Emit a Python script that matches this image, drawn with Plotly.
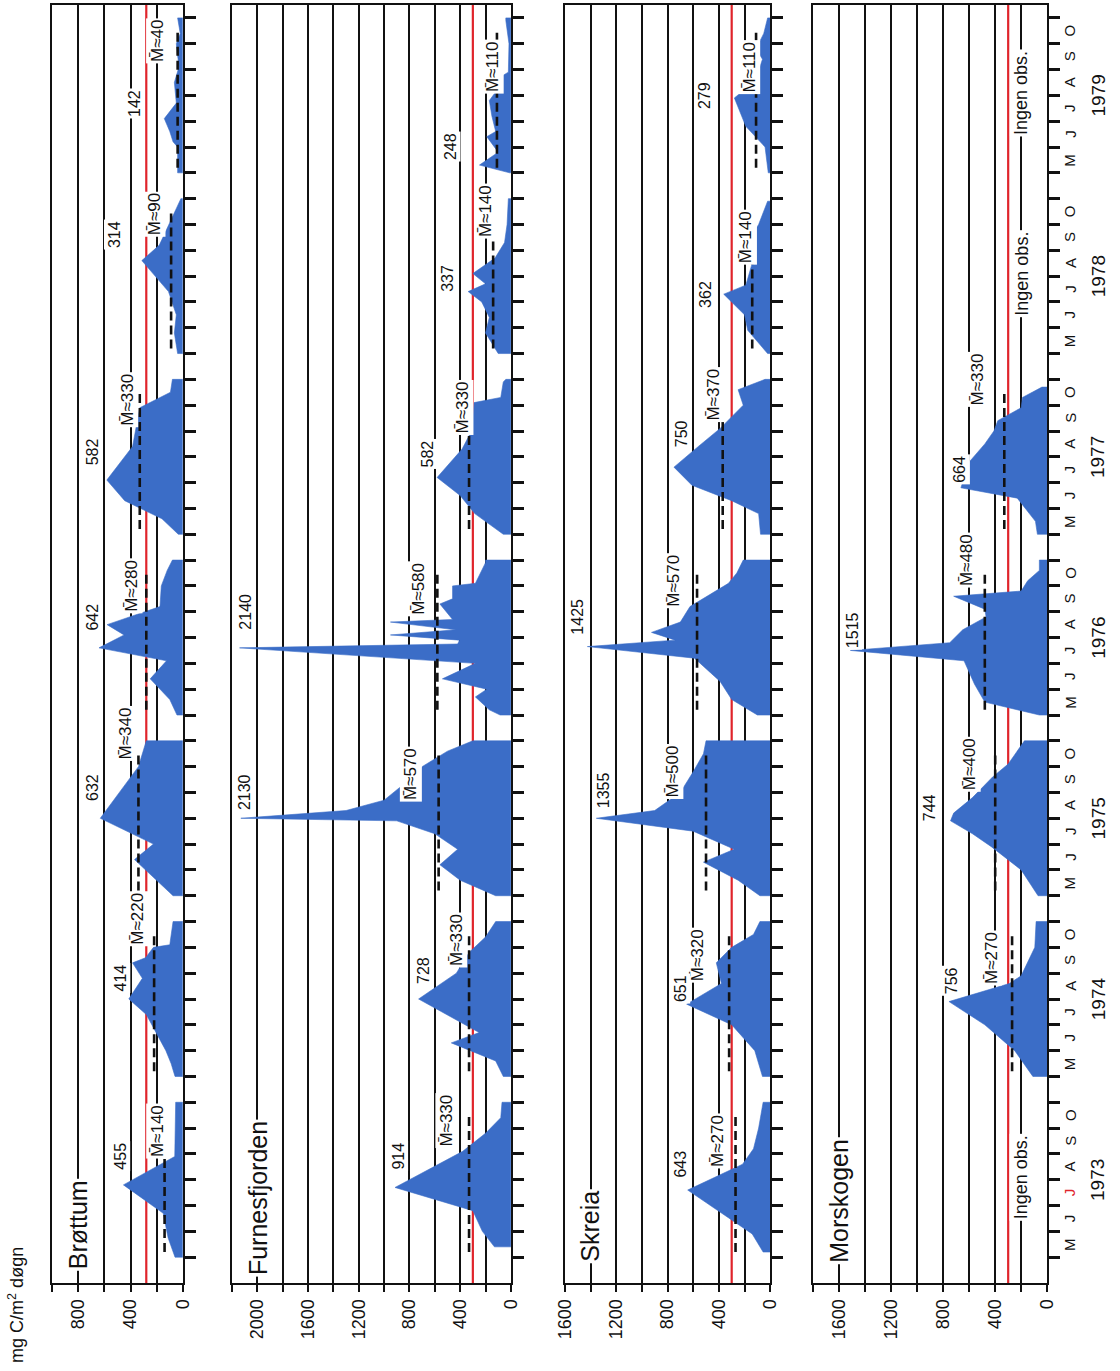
import plotly.graph_objects as go

FONT = "Liberation Sans, Arial, sans-serif"

YEARS = [1973, 1974, 1975, 1976, 1977, 1978, 1979]
MONTHS = ["M", "J", "J", "A", "S", "O"]
SEASON = 7  # May..October plus one empty slot before the next year

# Primary production (mg C/m2 døgn). t = months since 1 May of the given year.
brottum_t = {
    1973: [0, 0.75, 1.7, 2.8, 3.9, 6.0],
    1974: [0, 0.5, 1.0, 2.4, 3.0, 3.8, 4.4, 4.6, 5.0, 5.1, 6.0],
    1975: [0, 1.4, 2.0, 3.0, 5.0, 6.0],
    1976: [0, 0.6, 1.4, 2.1, 2.6, 3.1, 3.5, 4.2, 5.0, 5.6, 6.0],
    1977: [0, 0.6, 1.3, 2.1, 3.4, 4.9, 5.5, 6.0],
    1978: [0, 0.8, 1.5, 2.4, 3.6, 4.2, 5.2, 6.0],
    1979: [0, 1.0, 1.2, 1.6, 2.1, 2.7, 3.5, 4.1, 5.0, 5.4, 6.0],
}
brottum_v = {
    1973: [60, 113, 150, 455, 62, 55],
    1974: [60, 90, 130, 280, 414, 310, 385, 285, 225, 100, 75],
    1975: [75, 370, 225, 632, 340, 280],
    1976: [45, 100, 250, 125, 642, 450, 580, 175, 165, 120, 80],
    1977: [35, 160, 445, 582, 385, 330, 95, 80],
    1978: [40, 65, 50, 110, 314, 180, 85, 15],
    1979: [40, 40, 75, 100, 142, 50, 65, 30, 50, 20, 40],
}
brottum_mean = [140, 220, 340, 280, 330, 90, 40]
brottum_ref = 280

furnes_t = {
    1973: [0.4, 1.0, 1.8, 2.7, 4.1, 4.8, 5.4, 6.0],
    1974: [0, 0.6, 1.3, 1.7, 3.0, 4.0, 4.8, 5.4, 6.0],
    1975: [0, 0.6, 1.2, 1.8, 2.4, 2.9, 3.0, 3.3, 3.7, 4.3, 5.0, 5.6, 6.0],
    1976: [0, 0.2, 0.7, 1.0, 1.4, 2.0, 2.6, 2.75, 2.9, 3.1, 3.3, 3.6, 3.7, 4.3, 4.5, 5.0, 5.1, 5.9, 6.0],
    1977: [0, 0.8, 1.5, 2.2, 3.3, 4.0, 5.1, 5.3, 5.9, 6.0],
    1978: [0, 0.8, 1.4, 2.0, 2.4, 2.7, 3.1, 3.7, 4.3, 5.0, 6.0],
    1979: [0, 0.3, 0.8, 1.4, 1.6, 2.2, 2.8, 3.2, 3.6, 3.9, 5.0, 5.9, 6.0],
}
furnes_v = {
    1973: [130, 225, 300, 914, 380, 200, 80, 70],
    1974: [60, 120, 470, 250, 728, 430, 330, 200, 120],
    1975: [120, 400, 560, 420, 600, 900, 2130, 1300, 1000, 850, 700, 500, 300],
    1976: [85, 170, 280, 190, 540, 280, 2140, 420, 405, 950, 435, 950, 460, 560, 460, 460, 280, 200, 200],
    1977: [60, 285, 400, 582, 385, 310, 290, 80, 60, 40],
    1978: [100, 200, 170, 230, 337, 200, 300, 125, 50, 30, 20],
    1979: [10, 248, 100, 190, 120, 150, 170, 110, 120, 20, 15, 40, 40],
}
furnes_mean = [330, 330, 570, 580, 330, 140, 110]
furnes_ref = 300

skreia_t = {
    1973: [0.2, 0.9, 2.6, 3.6, 4.2, 5.0, 6.0],
    1974: [0, 1.0, 2.0, 2.8, 3.6, 4.4, 5.0, 5.5, 6.0],
    1975: [0, 0.6, 1.3, 1.8, 2.5, 3.0, 3.3, 4.0, 4.8, 5.5, 6.0],
    1976: [0, 0.6, 1.3, 2.2, 2.65, 2.9, 3.2, 3.6, 4.2, 5.1, 5.5, 6.0],
    1977: [0, 0.8, 1.3, 1.9, 2.6, 3.4, 4.1, 5.0, 5.6, 6.0],
    1978: [0, 0.9, 1.5, 2.3, 2.65, 3.5, 4.3, 5.0, 5.9],
    1979: [0, 1.0, 1.8, 2.9, 3.3, 3.8, 4.4, 4.8, 5.4, 6.0],
}
skreia_v = {
    1973: [55, 140, 643, 215, 130, 90, 55],
    1974: [60, 120, 300, 651, 380, 420, 300, 130, 80],
    1975: [80, 250, 520, 280, 600, 1355, 900, 700, 600, 520, 500],
    1976: [100, 300, 390, 590, 1425, 740, 925, 700, 625, 325, 260, 210],
    1977: [75, 90, 300, 610, 750, 560, 390, 210, 250, 40],
    1978: [20, 175, 200, 362, 190, 140, 175, 90, 20],
    1979: [15, 40, 190, 279, 180, 100, 60, 110, 50, 20],
}
skreia_mean = [270, 320, 500, 570, 370, 140, 110]
skreia_ref = 300

morskogen_t = {
    1974: [0, 1.0, 2.0, 2.9, 3.6, 3.9, 5.0, 6.0],
    1975: [0, 1.0, 1.9, 2.4, 2.9, 3.2, 3.8, 4.6, 5.1, 6.0],
    1976: [0, 0.5, 1.2, 2.1, 2.5, 2.8, 3.3, 3.8, 4.1, 4.6, 4.8, 5.2, 5.6, 6.0],
    1977: [0, 0.5, 1.4, 1.8, 2.8, 3.5, 4.0, 4.4, 4.9, 5.3, 5.7],
}
morskogen_v = {
    1974: [110, 250, 480, 756, 290, 200, 95, 85],
    1975: [70, 200, 430, 575, 744, 720, 575, 420, 300, 175],
    1976: [60, 480, 560, 640, 1515, 750, 650, 470, 480, 720, 200, 150, 60, 60],
    1977: [75, 90, 230, 664, 600, 480, 410, 380, 200, 190, 40],
}
morskogen_mean = [None, 270, 400, 480, 330, None, None]
morskogen_ref = 300
morskogen_no_obs = [1973, 1978, 1979]

BLUE = "#3b6dc7"
RED = "#e0242b"
INK = "#111111"
W, H = 1120, 1371
U_MIN, U_MAX = -1.0, 48.5


def u_of(year, t):
    return SEASON * (year - 1973) + t


panels = [
    dict(name="Brøttum", t=brottum_t, v=brottum_v, mean=brottum_mean, ref=brottum_ref,
         xmax=1000, px=(43, 176), name_at=(1.25, 800),
         peak_at=[(3.9, 480), (10.8, 480), (18.2, 690), (24.8, 690), (31.2, 690), (39.6, 525), (44.7, 375)],
         mean_at=[(4.9, 195), (13.1, 345), (20.3, 440), (26.0, 390), (33.2, 430), (40.4, 220), (47.1, 200)]),
    dict(name="Furnesfjorden", t=furnes_t, v=furnes_v, mean=furnes_mean, ref=furnes_ref,
         xmax=2200, px=(226, 510), name_at=(2.3, 2000),
         peak_at=[(3.9, 890), (11.1, 690), (18.0, 2100), (25.0, 2090), (31.1, 660), (37.9, 495), (43.0, 480)],
         mean_at=[(5.3, 510), (12.3, 430), (18.7, 790), (25.9, 730), (32.9, 380), (40.5, 200), (46.1, 140)]),
    dict(name="Skreia", t=skreia_t, v=skreia_v, mean=skreia_mean, ref=skreia_ref,
         xmax=1600, px=(565, 774), name_at=(1.2, 1400),
         peak_at=[(3.6, 700), (10.4, 700), (18.1, 1300), (24.8, 1500), (31.9, 690), (37.3, 510), (45.0, 510)],
         mean_at=[(4.5, 415), (11.7, 570), (18.8, 760), (26.2, 750), (33.4, 440), (39.5, 190), (46.1, 160)]),
    dict(name="Morskogen", t=morskogen_t, v=morskogen_v, mean=morskogen_mean, ref=morskogen_ref,
         xmax=1800, px=(818, 1056), name_at=(2.2, 1600),
         peak_at=[None, (10.7, 730), (17.4, 900), (24.3, 1500), (30.5, 670), None, None],
         mean_at=[None, (11.6, 430), (19.1, 600), (27.0, 625), (34.0, 540), None, None]),
]

fig = go.Figure()
annotations = []


def text_label(text, xref, yref, x, y, size, color=INK, bg="white"):
    return dict(text=text, xref=xref, yref=yref, x=x, y=y, textangle=-90,
                showarrow=False, xanchor="center", yanchor="middle",
                font=dict(size=size, color=color, family=FONT),
                bgcolor=bg, borderpad=1)


layout_axes = {}
for i, p in enumerate(panels, start=1):
    xa = "x" if i == 1 else f"x{i}"
    ya = "y" if i == 1 else f"y{i}"

    # reference level
    fig.add_trace(go.Scatter(x=[p["ref"], p["ref"]], y=[U_MIN, U_MAX], mode="lines",
                             line=dict(color=RED, width=2.2), xaxis=xa, yaxis=ya,
                             hoverinfo="skip"))

    # seasonal production profiles
    for year in YEARS:
        if year not in p["t"]:
            continue
        ts, vs = p["t"][year], p["v"][year]
        us = [u_of(year, t) for t in ts]
        fig.add_trace(go.Scatter(x=[0] + vs + [0], y=[us[0]] + us + [us[-1]],
                                 mode="lines", fill="toself", fillcolor=BLUE,
                                 line=dict(color=BLUE, width=0.6),
                                 xaxis=xa, yaxis=ya, hoverinfo="skip"))

    # seasonal means
    for k, year in enumerate(YEARS):
        m = p["mean"][k]
        if m is None:
            continue
        u0 = u_of(year, 0)
        fig.add_trace(go.Scatter(x=[m, m], y=[u0 + 0.2, u0 + 5.6], mode="lines",
                                 line=dict(color=INK, width=2.6, dash="9px,5px"),
                                 xaxis=xa, yaxis=ya, hoverinfo="skip"))
        mu, mx = p["mean_at"][k]
        annotations.append(text_label(f"M\u0304\u2248{m}", xa, ya, mx, mu, 17))

    # peak values
    for k, year in enumerate(YEARS):
        if year not in p["v"]:
            continue
        pu, pxv = p["peak_at"][k]
        annotations.append(text_label(str(max(p["v"][year])), xa, ya, pxv, pu, 16))

    # station name
    nu, nx = p["name_at"]
    annotations.append(text_label(p["name"], xa, ya, nx, nu, 25))

    grid_vals = list(range(0, p["xmax"] + 1, 200))
    label_vals = [v for v in grid_vals if v % 400 == 0 and v <= 2000]
    if p["xmax"] == 1000:
        label_vals = [v for v in label_vals if v <= 800]
    if p["xmax"] == 1800:
        label_vals = [v for v in label_vals if v <= 1600]
    layout_axes["xaxis" if i == 1 else f"xaxis{i}"] = dict(
        domain=[p["px"][0] / W, p["px"][1] / W], anchor=ya, range=[p["xmax"], 0],
        tickmode="array", tickvals=label_vals, ticktext=[str(v) for v in label_vals],
        tickangle=-90, ticks="outside", ticklen=7, tickwidth=2, tickcolor=INK,
        tickfont=dict(size=18, color=INK, family=FONT),
        showgrid=True, gridcolor=INK, gridwidth=1.8, zeroline=False,
        minor=dict(tickmode="array", tickvals=grid_vals, ticks="outside", ticklen=7,
                   tickwidth=2, tickcolor=INK, showgrid=True, gridcolor=INK, gridwidth=1.8),
        showline=True, linecolor=INK, linewidth=2.2, mirror=True, fixedrange=True)
    layout_axes["yaxis" if i == 1 else f"yaxis{i}"] = dict(
        domain=[0, 1], anchor=xa, side="right", range=[U_MIN, U_MAX],
        tickmode="array", tickvals=list(range(0, 49)), showticklabels=False,
        ticks="outside", ticklen=11, tickwidth=2.8, tickcolor=INK,
        showgrid=False, zeroline=False, showline=True, linecolor=INK,
        linewidth=2.2, mirror=True, fixedrange=True)

# no observations at Morskogen
for year in morskogen_no_obs:
    annotations.append(text_label("Ingen obs.", "x4", "y4", 200, u_of(year, 3.1), 18))

# month letters and year labels along the time axis
for year in YEARS:
    for m, letter in enumerate(MONTHS):
        col = RED if (year == 1973 and m == 2) else INK
        annotations.append(text_label(letter, "paper", "y4", 1079 / W, u_of(year, m + 0.5), 15,
                                      color=col, bg="rgba(0,0,0,0)"))
    annotations.append(text_label(str(year), "paper", "y4", 1108 / W, u_of(year, 3.0), 19,
                                  bg="rgba(0,0,0,0)"))

# value axis unit
annotations.append(text_label("mg C/m<sup>2</sup> døgn", "paper", "paper", 6 / W,
                              (1283 - 1305) / 1278, 18, bg="rgba(0,0,0,0)"))

fig.update_layout(
    width=W, height=H, margin=dict(l=0, r=0, t=5, b=88),
    plot_bgcolor="white", paper_bgcolor="white", showlegend=False,
    font=dict(family=FONT, color=INK), annotations=annotations, hovermode=False,
    **layout_axes)

fig.write_html("out.html")
